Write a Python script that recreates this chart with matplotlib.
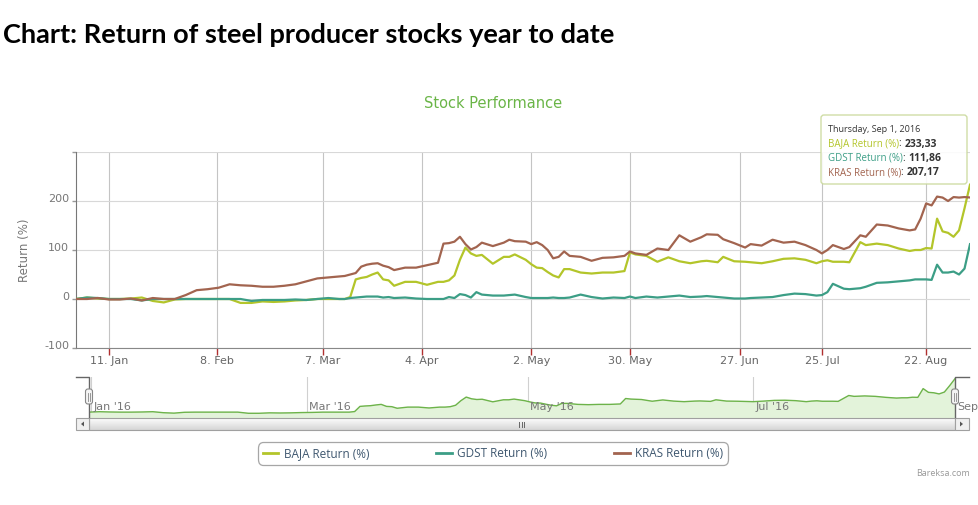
import numpy as np
import pandas as pd
import matplotlib
matplotlib.use('Agg')
import matplotlib.pyplot as plt
import matplotlib.transforms as mtransforms
from matplotlib.patches import FancyBboxPatch, Rectangle, Polygon
from matplotlib.lines import Line2D

# ------------------------------------------------------ DATA --------------------------------------------

# IDX trading calendar: weekdays without exchange holidays (the x axis is ordinal)
holidays = ['2015-12-31', '2016-01-01', '2016-02-08', '2016-03-09', '2016-03-25', '2016-05-05',
            '2016-05-06', '2016-07-04', '2016-07-05', '2016-07-06', '2016-07-07', '2016-07-08',
            '2016-08-17']
trading_days = pd.bdate_range('2015-12-30', '2016-09-01').drop(pd.to_datetime(holidays))

dates = ['2015-12-30', '2016-01-05', '2016-01-07', '2016-01-11', '2016-01-13', '2016-01-15',
         '2016-01-19', '2016-01-21', '2016-01-25', '2016-01-27', '2016-01-29', '2016-02-02',
         '2016-02-04', '2016-02-09', '2016-02-11', '2016-02-15', '2016-02-17', '2016-02-19',
         '2016-02-23', '2016-02-25', '2016-02-29', '2016-03-02', '2016-03-04', '2016-03-08',
         '2016-03-11', '2016-03-14', '2016-03-15', '2016-03-16', '2016-03-17', '2016-03-18',
         '2016-03-21', '2016-03-22', '2016-03-23', '2016-03-24', '2016-03-28', '2016-03-30',
         '2016-04-01', '2016-04-05', '2016-04-07', '2016-04-08', '2016-04-11', '2016-04-12',
         '2016-04-13', '2016-04-14', '2016-04-15', '2016-04-18', '2016-04-19', '2016-04-21',
         '2016-04-25', '2016-04-26', '2016-04-27', '2016-04-29', '2016-05-02', '2016-05-03',
         '2016-05-04', '2016-05-09', '2016-05-10', '2016-05-11', '2016-05-12', '2016-05-13',
         '2016-05-17', '2016-05-19', '2016-05-23', '2016-05-25', '2016-05-27', '2016-05-30',
         '2016-05-31', '2016-06-02', '2016-06-06', '2016-06-08', '2016-06-10', '2016-06-14',
         '2016-06-16', '2016-06-17', '2016-06-21', '2016-06-22', '2016-06-24', '2016-06-28',
         '2016-06-29', '2016-07-01', '2016-07-12', '2016-07-14', '2016-07-18', '2016-07-20',
         '2016-07-22', '2016-07-25', '2016-07-26', '2016-07-27', '2016-07-29', '2016-08-01',
         '2016-08-03', '2016-08-04', '2016-08-08', '2016-08-10', '2016-08-12', '2016-08-16',
         '2016-08-18', '2016-08-19', '2016-08-22', '2016-08-23', '2016-08-24', '2016-08-25',
         '2016-08-26', '2016-08-29', '2016-08-30', '2016-08-31', '2016-09-01']

baja = [0, 3, 1, 0, 0, 1, 3, -4, -7, -1, 0, 0, 0, 0, 0, -8, -8, -5, -6, -5, -3, -2, 0, 0, 0,
        0, 4, 40, 43, 45, 50, 54, 40, 38, 27,
        35, 35, 29, 35,
        35, 38, 48, 80, 105, 93, 88, 90,
        72, 86,
        86, 91,
        80, 71, 64, 63, 55, 48, 44, 61, 61,
        54, 52, 54, 54, 57,
        95, 91,
        88, 76, 85, 77, 73, 77,
        78, 75, 86, 77, 76, 75, 73, 77, 82, 83, 80, 73,
        77, 79, 76, 76, 75, 116, 110, 113, 110, 103, 98, 100, 100,
        104, 103, 164, 138, 135, 127, 140, 185, 233.33]

gdst = [0, 3, 2, 0, 0, 0, -3, 0, 0, 0, 0, 0, 0, 0, 0, 0, -4, -2, -2, -2, -1, -2, 0, 2, 0,
        0, 2, 3, 4, 5, 5, 5, 3, 4, 2,
        3, 1, 0, 0,
        0, 4, 2, 10, 8, 3, 14, 9,
        7, 7,
        8, 9,
        4, 2, 2, 2, 2, 3, 2, 2, 3,
        9, 4, 1, 3, 2,
        5, 2,
        5, 3, 5, 7, 4, 5,
        6, 4, 3, 1, 1, 2, 3, 4, 8, 11, 10, 7,
        8, 14, 31, 21, 20, 22, 25, 33, 34, 36, 38, 40, 40,
        40, 39, 70, 54, 54, 56, 50, 62, 111.86]

kras = [0, 0, 2, -1, -1, 1, -3, 2, 0, 0, 8, 18, 20, 23, 30, 28, 27, 25, 25, 27, 30, 36, 42, 44, 46,
        47, 50, 53, 66, 70, 72, 73, 68, 65, 59,
        64, 64, 69, 74,
        113, 114, 117, 127, 112, 101, 106, 115,
        108, 115,
        121, 118,
        117, 112, 116, 110, 100, 83, 86, 97, 88,
        86, 78, 84, 85, 88,
        97, 93,
        90, 103, 100, 130, 117, 126,
        132, 131, 122, 114, 105, 112, 109, 121, 115, 117, 110, 100,
        93, 100, 110, 102, 106, 130, 127, 152, 150, 144, 140, 142, 164,
        195, 191, 209, 207, 200, 208, 207, 208, 207.17]

series_names = ['BAJA Return (%)', 'GDST Return (%)', 'KRAS Return (%)']
series_colors = ['#b3c52a', '#3c9e86', '#a2644f']

tick_dates = ['2016-01-11', '2016-02-08', '2016-03-07', '2016-04-04', '2016-05-02',
              '2016-05-30', '2016-06-27', '2016-07-25', '2016-08-22']
tick_labels = ['11. Jan', '8. Feb', '7. Mar', '4. Apr', '2. May', '30. May', '27. Jun',
               '25. Jul', '22. Aug']
nav_dates = ['2016-01-01', '2016-03-01', '2016-05-01', '2016-07-01', '2016-09-01']
nav_labels = ["Jan '16", "Mar '16", "May '16", "Jul '16", 'Sep']


# ------------------------------------------------------ HELPERS --------------------------------------------

W, H = 979, 505
day_num = trading_days.values.astype('datetime64[D]').astype(float)


def day_pos(d):
    # position of a calendar date on the ordinal (trading day) axis
    return np.interp(np.datetime64(d, 'D').astype(float), day_num, np.arange(len(day_num)))


def px_box(l, t, r, b):
    return [l / W, 1 - b / H, (r - l) / W, (b - t) / H]


x = trading_days.get_indexer(pd.to_datetime(dates))
last = len(trading_days) - 1

fig = plt.figure(figsize=(W / 100, H / 100), dpi=100)
fig.patch.set_facecolor('white')

# ------------------------------------------------------ MAIN CHART --------------------------------------------

ax = fig.add_axes(px_box(76, 152, 970, 348))
for vals, name, col in zip([baja, gdst, kras], series_names, series_colors):
    ax.plot(x, vals, color=col, lw=1.6, label=name, solid_joinstyle='round', zorder=3)

ax.set_xlim(0, last)
ax.set_ylim(-100, 300)
ax.set_yticks([-100, 0, 100, 200, 300])
ax.set_yticklabels(['-100', '0', '100', '200', ''])
ax.set_xticks([day_pos(d) for d in tick_dates])
ax.set_xticklabels(tick_labels)
ax.grid(axis='y', color='#d8d8d8', lw=0.8)
ax.grid(axis='x', color='#c4c4c4', lw=0.8)
ax.set_axisbelow(True)
for s in ['top', 'right']:
    ax.spines[s].set_visible(False)
ax.spines['left'].set_color('#777777')
ax.spines['bottom'].set_color('#888888')
ax.tick_params(axis='x', length=5, width=1, color='#b03030', labelcolor='#666666',
               labelsize=8, pad=1)
ax.tick_params(axis='y', length=3, width=1, color='#999999', labelcolor='#777777',
               labelsize=8, pad=2)
offset = mtransforms.ScaledTranslation(0, 0.03, fig.dpi_scale_trans)
for lbl in ax.get_yticklabels():
    lbl.set_transform(lbl.get_transform() + offset)
ax.set_ylabel('Return (%)', color='#777777', fontsize=8.5)
ax.yaxis.set_label_coords((31 - 76) / 894, 0.5)

fig.text(3 / W, 1 - 35 / H, 'Chart: Return of steel producer stocks year to date',
         fontsize=19.5, fontweight='bold', family='Lato', va='center', ha='left')
fig.text(493 / W, 1 - 103 / H, 'Stock Performance', fontsize=10.5, color='#6ab547',
         ha='center', va='center')

# ------------------------------------------------------ NAVIGATOR --------------------------------------------

nav = fig.add_axes(px_box(89, 377, 955, 417))
nav.plot(x, baja, color='#6db34a', lw=1)
nav.fill_between(x, baja, -34, color='#e3f3da')
nav.set_xlim(0, last)
nav.set_ylim(-34, 245)
nav.axis('off')
for d, lbl in zip(nav_dates, nav_labels):
    p = day_pos(d)
    if 0 < p < last:
        nav.axvline(p, color='#d0d0d0', lw=0.8, zorder=0)
    nav.annotate(lbl, xy=(p, 0.24), xycoords=('data', 'axes fraction'), xytext=(2, 0),
                 textcoords='offset pixels', ha='left', va='center', fontsize=8,
                 color='#777777', annotation_clip=False)

# decorations drawn in pixel coordinates
deco = fig.add_axes([0, 0, 1, 1], zorder=5)
deco.set_xlim(0, W)
deco.set_ylim(H, 0)
deco.axis('off')
deco.patch.set_alpha(0)

shade = np.linspace(0.99, 0.84, 20)
grad = np.dstack([shade, shade, shade]).reshape(-1, 1, 3)
deco.imshow(grad, extent=(89, 955, 430, 418), aspect='auto', zorder=1)
deco.add_patch(Rectangle((89, 418), 866, 12, fc='none', ec='#a0a0a0', lw=0.8, zorder=2))
for bx, bw in [(76, 13), (955, 14)]:
    deco.add_patch(Rectangle((bx, 418), bw, 12, fc='#f0f0f0', ec='#a0a0a0', lw=0.8, zorder=2))
deco.add_patch(Polygon([(84, 421.5), (84, 426.5), (81, 424)], fc='#555555', zorder=3))
deco.add_patch(Polygon([(960, 421.5), (960, 426.5), (963, 424)], fc='#555555', zorder=3))
for gx in [519.5, 522, 524.5]:
    deco.plot([gx, gx], [421.5, 426.5], color='#666666', lw=0.7, zorder=3)

deco.plot([76, 89, 89], [377, 377, 417], color='#666666', lw=1, zorder=3)
deco.plot([955, 955, 969], [417, 377, 377], color='#666666', lw=1, zorder=3)
for hx in [89, 955]:
    deco.add_patch(FancyBboxPatch((hx - 3.5, 389), 7, 15, boxstyle='round,pad=0,rounding_size=2.5',
                                  fc='#f4f4f4', ec='#888888', lw=0.8, zorder=4))
    for gx in [hx - 1, hx + 1]:
        deco.plot([gx, gx], [392.5, 400.5], color='#888888', lw=0.6, zorder=5)

# ------------------------------------------------------ TOOLTIP --------------------------------------------

deco.add_patch(FancyBboxPatch((821, 115), 146, 69, boxstyle='round,pad=0,rounding_size=3',
                              fc='white', ec='#c9d89a', lw=1, alpha=0.88, zorder=6))
deco.text(828, 130, 'Thursday, Sep 1, 2016', fontsize=6.5, color='#333333', family='Open Sans',
          va='center', ha='left', zorder=7)
for row, (vals, name, col) in enumerate(zip([baja, gdst, kras], series_names, series_colors)):
    yy = 144 + row * 14.3
    t1 = deco.text(828, yy, name, fontsize=7, color=col, family='Open Sans', va='center',
                   ha='left', zorder=7)
    t2 = deco.annotate(': ', xy=(1, 0.5), xycoords=t1, va='center', ha='left', fontsize=7,
                       color='#333333', family='Open Sans', zorder=7)
    deco.annotate(f'{vals[-1]:.2f}'.replace('.', ','), xy=(1, 0.5), xycoords=t2, va='center',
                  ha='left', fontsize=7.5, fontweight='bold', color='#333333',
                  family='Open Sans', zorder=7)

# ------------------------------------------------------ LEGEND --------------------------------------------

handles = [Line2D([], [], color=c, lw=2) for c in series_colors]
leg = fig.legend(handles, series_names, loc='center', bbox_to_anchor=(493 / W, 1 - 453.5 / H),
                 ncol=3, frameon=True, prop={'family': 'Open Sans', 'size': 8.5},
                 handlelength=1.3, handletextpad=0.45, columnspacing=5.7, borderpad=0.45,
                 labelcolor='#3e576f')
leg.get_frame().set_edgecolor('#909090')
leg.get_frame().set_linewidth(0.9)
leg.get_frame().set_boxstyle('round,pad=0,rounding_size=0.5')

fig.text(970 / W, 1 - 474 / H, 'Bareksa.com', fontsize=6.5, color='#999999', ha='right',
         va='center', family='Open Sans')

fig.savefig('out.png', dpi=100, facecolor='white')
